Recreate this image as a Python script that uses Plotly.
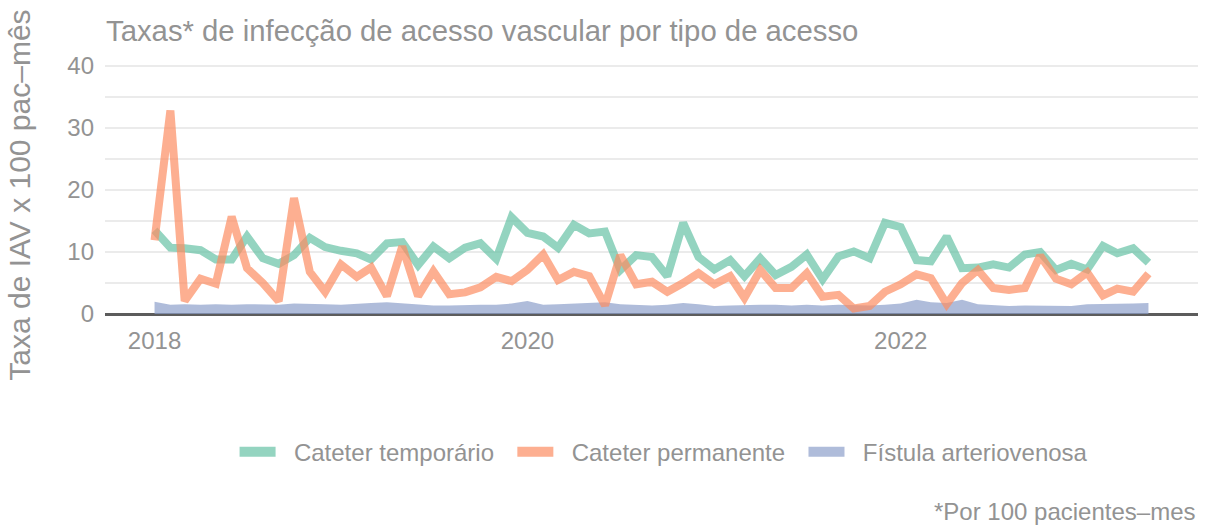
import pandas as pd
import plotly.graph_objects as go

# Monthly infection rates per 100 patient-months, Jan 2018 onward
cateter_temporario = [
    13.5, 10.7, 10.6, 10.3, 8.8, 8.8, 12.5, 9.0, 8.1, 9.5, 12.3, 10.8,
    10.2, 9.8, 8.8, 11.4, 11.6, 7.9, 10.9, 9.0, 10.7, 11.4, 8.9, 15.6,
    13.1, 12.5, 10.7, 14.4, 13.0, 13.3, 7.1, 9.5, 9.2, 6.1, 14.7, 9.2,
    7.2, 8.7, 6.1, 9.0, 6.3, 7.6, 9.6, 5.6, 9.3, 10.1, 9.0, 14.7,
    14.0, 8.7, 8.5, 12.5, 7.4, 7.5, 8.0, 7.5, 9.6, 10.0, 7.1, 8.1,
    7.2, 11.0, 9.8, 10.6, 8.3,
]
cateter_permanente = [
    11.9, 32.8, 2.1, 5.7, 4.9, 15.7, 7.4, 5.0, 2.1, 18.7, 6.8, 3.6,
    8.0, 6.0, 7.5, 2.9, 10.9, 2.9, 6.9, 3.2, 3.5, 4.3, 6.0, 5.3,
    7.1, 9.6, 5.5, 6.8, 6.1, 1.4, 9.5, 4.8, 5.2, 3.6, 5.0, 6.6,
    4.8, 6.1, 2.6, 7.1, 4.2, 4.2, 6.6, 2.8, 3.1, 0.9, 1.3, 3.6,
    4.8, 6.4, 5.8, 1.6, 5.0, 7.1, 4.2, 3.9, 4.2, 9.4, 5.7, 4.8,
    6.7, 3.0, 4.1, 3.6, 6.5,
]
fistula_av = [
    2.0, 1.5, 1.6, 1.5, 1.6, 1.5, 1.6, 1.6, 1.5, 1.7, 1.7, 1.6,
    1.5, 1.7, 1.8, 1.9, 1.7, 1.5, 1.4, 1.4, 1.5, 1.5, 1.5, 1.7,
    2.1, 1.5, 1.6, 1.7, 1.8, 1.9, 1.6, 1.5, 1.4, 1.5, 1.8, 1.6,
    1.3, 1.4, 1.5, 1.5, 1.5, 1.4, 1.5, 1.4, 1.5, 1.4, 1.4, 1.5,
    1.7, 2.3, 1.9, 1.8, 2.3, 1.6, 1.5, 1.3, 1.4, 1.4, 1.4, 1.3,
    1.6, 1.6, 1.7, 1.7, 1.8,
]
meses = pd.date_range("2018-01-01", periods=len(cateter_temporario), freq="MS")

series_names = ["Cateter temporário", "Cateter permanente", "Fístula arteriovenosa"]
series_colors = ["rgba(102,194,165,0.7)", "rgba(252,141,98,0.7)", "rgba(141,160,203,0.7)"]

tick_dates = ["2018-01-01", "2020-01-01", "2022-01-01"]
tick_labels = ["2018", "2020", "2022"]

FONT = "Liberation Sans, Arial, sans-serif"
TXT = "#939393"
NB = "\u00a0"

fig = go.Figure()

# Fistula as a filled area down to zero
fig.add_trace(go.Scatter(
    x=meses, y=fistula_av, mode="lines", fill="tozeroy",
    line=dict(width=0, color=series_colors[2]), fillcolor=series_colors[2],
    showlegend=False, hoverinfo="skip",
))
# Catheter rates as thick translucent lines
for vals, col in ((cateter_temporario, series_colors[0]), (cateter_permanente, series_colors[1])):
    fig.add_trace(go.Scatter(
        x=meses, y=vals, mode="lines",
        line=dict(width=8, color=col),
        showlegend=False,
    ))

# Legend keys as wide colour swatches
for name, col in zip(series_names, series_colors):
    fig.add_trace(go.Scatter(
        x=[None], y=[None], mode="lines", name=NB * 2 + name + NB * 2,
        line=dict(width=14, color=col),
    ))

fig.update_layout(
    width=1208, height=527,
    margin=dict(l=105, r=10, t=56, b=203),
    paper_bgcolor="white", plot_bgcolor="white",
    font=dict(family=FONT, color=TXT, size=24),
    legend=dict(
        orientation="h", x=0.517, xanchor="center", y=-0.478, yanchor="middle",
        font=dict(size=24, color=TXT), itemwidth=36, traceorder="normal",
    ),
    xaxis=dict(
        range=["2017-09-26", "2023-08-06"],
        tickvals=tick_dates, ticktext=tick_labels,
        showgrid=False, zeroline=False, showline=False, ticks="",
        tickfont=dict(size=24, color=TXT),
    ),
    yaxis=dict(
        range=[-1.6, 41.6], tickvals=[0, 10, 20, 30, 40],
        showgrid=True, gridcolor="#ebebeb", gridwidth=1.5,
        minor=dict(tickvals=[5, 15, 25, 35], showgrid=True, gridcolor="#ebebeb", gridwidth=1.5),
        zeroline=True, zerolinecolor="#5c5c5c", zerolinewidth=2.5,
        showline=False, ticks="", ticklabelstandoff=10,
        tickfont=dict(size=24, color=TXT),
    ),
    annotations=[
        dict(text="Taxas* de infecção de acesso vascular por tipo de acesso",
             xref="paper", yref="paper", x=-0.001, y=1.097, xanchor="left", yanchor="middle",
             showarrow=False, font=dict(size=29.3, color=TXT)),
        dict(text="Taxa de IAV x 100 pac–mês", textangle=-90,
             xref="paper", yref="paper", x=-0.079, y=0.481, xanchor="center", yanchor="middle",
             showarrow=False, font=dict(size=30, color=TXT)),
        dict(text="*Por 100 pacientes–mes",
             xref="paper", yref="paper", x=1.0, y=-0.701, xanchor="right", yanchor="middle",
             showarrow=False, font=dict(size=24, color=TXT)),
    ],
)

fig.write_html("out.html")
